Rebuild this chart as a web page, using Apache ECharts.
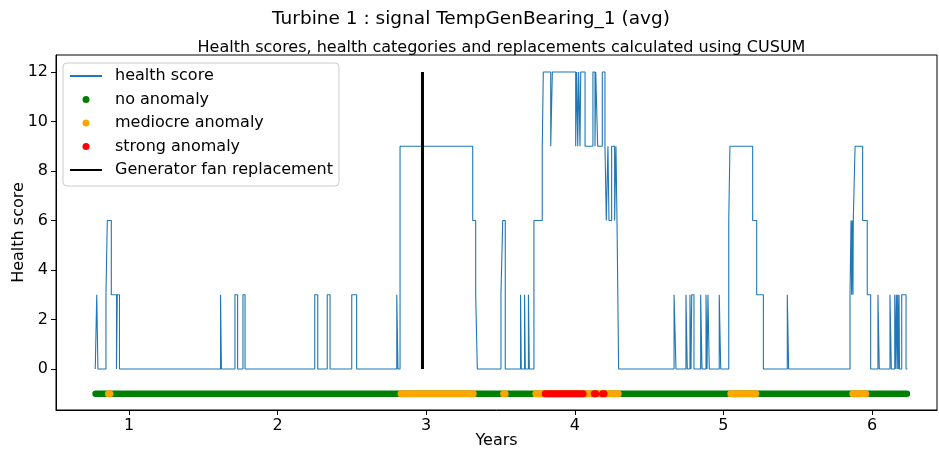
<!DOCTYPE html>
<html>
<head>
<meta charset="utf-8">
<title>Turbine 1 : signal TempGenBearing_1 (avg)</title>
<script src="https://cdn.jsdelivr.net/npm/echarts@6/dist/echarts.min.js"></script>
<style>
  html, body { margin: 0; padding: 0; background: #fff; }
  #chart { width: 939px; height: 450px; }
</style>
</head>
<body>
<div id="chart"></div>
<script>
// Health score time series: each entry holds from its year until the next one.
const scoreYears = [
  0.773, 0.783, 0.791, 0.845, 0.854, 0.881, 0.916, 0.921, 0.936,
  1.616, 1.622, 1.713, 1.731, 1.767, 1.781,
  2.250, 2.270, 2.334, 2.353, 2.499, 2.532, 2.802, 2.810, 2.824,
  3.313, 3.333, 3.344, 3.503, 3.515, 3.532,
  3.635, 3.640, 3.662, 3.667, 3.688, 3.694,
  3.725, 3.781, 3.788, 3.838, 3.849,
  4.006, 4.013, 4.020, 4.026, 4.035, 4.040, 4.069, 4.122, 4.136, 4.141,
  4.154, 4.185, 4.203, 4.212, 4.223, 4.230, 4.248, 4.268, 4.277, 4.284, 4.295,
  4.668, 4.681, 4.748, 4.757, 4.775, 4.782, 4.787, 4.802, 4.847, 4.856,
  4.883, 4.890, 4.896, 4.905, 4.972, 4.982,
  5.036, 5.044, 5.197, 5.224, 5.269, 5.430, 5.439,
  5.852, 5.859, 5.863, 5.867, 5.872, 5.874, 5.886, 5.937, 5.968, 5.991,
  6.040, 6.049, 6.121, 6.130, 6.153, 6.157, 6.164, 6.168, 6.173, 6.177,
  6.182, 6.185, 6.200, 6.229, 6.238
];
const scoreValues = [
  0, 3, 0, 3, 6, 3, 0, 3, 0,
  3, 0, 3, 0, 3, 0,
  3, 0, 3, 0, 3, 0, 3, 0, 9,
  6, 3, 0, 3, 6, 0,
  3, 0, 3, 0, 3, 0,
  6, 9, 12, 9, 12,
  9, 12, 9, 12, 9, 12, 9, 12, 9, 12,
  9, 12, 9, 6, 9, 6, 9, 6, 9, 6, 0,
  3, 0, 3, 0, 3, 0, 3, 0, 3, 0,
  3, 0, 3, 0, 3, 0,
  6, 9, 6, 3, 0, 3, 0,
  3, 6, 3, 6, 3, 6, 9, 6, 3, 0,
  3, 0, 3, 0, 3, 0, 3, 0, 3, 0,
  3, 0, 3, 0, 0
];

// Health categories, given as [first year, last year] runs, drawn on the row y = -1.
const categoryRow = -1;
const noAnomalyRuns = [[0.775, 6.235]];
const mediocreRuns = [
  [0.862, 0.872], [2.831, 3.316], [3.521, 3.531],
  [3.738, 4.292], [5.050, 5.218], [5.871, 5.958]
];
const strongRuns = [[3.801, 4.056], [4.131, 4.141], [4.187, 4.197]];

// Component replacements (year) and the score span of their marker.
const replacementYears = [2.975];
const replacementSpan = [0, 12];

// Axis ticks.
const xTicks = [1, 2, 3, 4, 5, 6];
const yTicks = [0, 2, 4, 6, 8, 10, 12];

const FONT = 'DejaVu Sans';
const FS = 16;

// Step path: hold each score until the next timestamp, then jump vertically.
const scoreData = [];
scoreYears.forEach((x, i) => {
  if (i > 0) scoreData.push([x, scoreValues[i - 1]]);
  scoreData.push([x, scoreValues[i]]);
});

function runsToData(runs) {
  const out = [];
  runs.forEach(([a, b], i) => {
    if (i > 0) out.push(['-', '-']);
    out.push([a, categoryRow], [b, categoryRow]);
  });
  return out;
}

const replacementData = [];
replacementYears.forEach((x, i) => {
  if (i > 0) replacementData.push(['-', '-']);
  replacementData.push([x, replacementSpan[0]], [x, replacementSpan[1]]);
});

const chart = echarts.init(document.getElementById('chart'), null, { renderer: 'canvas' });

chart.setOption({
  animation: false,
  backgroundColor: '#ffffff',
  textStyle: { fontFamily: FONT },
  title: [
    {
      text: 'Turbine 1 : signal TempGenBearing_1 (avg)',
      left: 466, top: 5, textAlign: 'center',
      textStyle: { fontFamily: FONT, fontSize: 18.5, fontWeight: 'normal', color: '#000' }
    },
    {
      text: 'Health scores, health categories and replacements calculated using CUSUM',
      left: 496.5, top: 35, textAlign: 'center',
      textStyle: { fontFamily: FONT, fontSize: 16, fontWeight: 'normal', color: '#000' }
    }
  ],
  grid: {
    left: 56, top: 55, width: 881, height: 355,
    outerBoundsMode: 'none',
    show: true, borderColor: '#000', borderWidth: 1, backgroundColor: 'transparent',
    containLabel: false
  },
  legend: {
    orient: 'vertical',
    left: 63, top: 63,
    padding: [4, 6, 7, 6],
    itemWidth: 32, itemHeight: 7, itemGap: 5.5,
    borderColor: '#cccccc', borderWidth: 1, borderRadius: 4,
    backgroundColor: 'rgba(255,255,255,0.85)',
    selectedMode: false,
    textStyle: { fontFamily: FONT, fontSize: FS, color: '#000', lineHeight: 18, padding: [0, 0, 0, 8] },
    data: [
      { name: 'health score', itemStyle: { opacity: 0 } },
      { name: 'no anomaly', icon: 'circle' },
      { name: 'mediocre anomaly', icon: 'circle' },
      { name: 'strong anomaly', icon: 'circle' },
      { name: 'Generator fan replacement', itemStyle: { opacity: 0 } }
    ]
  },
  xAxis: {
    type: 'value',
    min: 0.5088, max: 6.4374,
    name: 'Years', nameLocation: 'middle', nameGap: 23, nameMoveOverlap: false,
    nameTextStyle: { fontFamily: FONT, fontSize: FS, color: '#000' },
    axisLine: { show: true, onZero: false, lineStyle: { color: '#000', width: 1 } },
    axisTick: { show: true, length: 5, inside: false, customValues: xTicks, lineStyle: { color: '#000' } },
    axisLabel: { show: true, customValues: xTicks, margin: 8, fontFamily: FONT, fontSize: FS, color: '#000' },
    splitLine: { show: false }
  },
  yAxis: {
    type: 'value',
    min: -1.657, max: 12.687,
    name: 'Health score', nameLocation: 'middle', nameGap: 29, nameRotate: 90, nameMoveOverlap: false,
    nameTextStyle: { fontFamily: FONT, fontSize: FS, color: '#000' },
    axisLine: { show: true, onZero: false, lineStyle: { color: '#000', width: 1 } },
    axisTick: { show: true, length: 5, inside: false, customValues: yTicks, lineStyle: { color: '#000' } },
    axisLabel: { show: true, customValues: yTicks, margin: 8, fontFamily: FONT, fontSize: FS, color: '#000' },
    splitLine: { show: false }
  },
  series: [
    {
      name: 'health score',
      type: 'line',
      data: scoreData,
      symbol: 'none',
      color: '#1f77b4',
      lineStyle: { color: '#1f77b4', width: 1.1 },
      z: 2
    },
    {
      name: 'no anomaly',
      type: 'line',
      data: runsToData(noAnomalyRuns),
      symbol: 'none',
      color: 'green',
      itemStyle: { color: 'green' },
      lineStyle: { color: 'green', width: 6.5, cap: 'round' },
      connectNulls: false,
      z: 3
    },
    {
      name: 'mediocre anomaly',
      type: 'line',
      data: runsToData(mediocreRuns),
      symbol: 'none',
      color: 'orange',
      itemStyle: { color: 'orange' },
      lineStyle: { color: 'orange', width: 7, cap: 'round' },
      connectNulls: false,
      z: 4
    },
    {
      name: 'strong anomaly',
      type: 'line',
      data: runsToData(strongRuns),
      symbol: 'none',
      color: 'red',
      itemStyle: { color: 'red' },
      lineStyle: { color: 'red', width: 7, cap: 'round' },
      connectNulls: false,
      z: 5
    },
    {
      name: 'Generator fan replacement',
      type: 'line',
      data: replacementData,
      symbol: 'none',
      color: '#000',
      lineStyle: { color: '#000', width: 3 },
      connectNulls: false,
      z: 6
    }
  ]
});
</script>
</body>
</html>
